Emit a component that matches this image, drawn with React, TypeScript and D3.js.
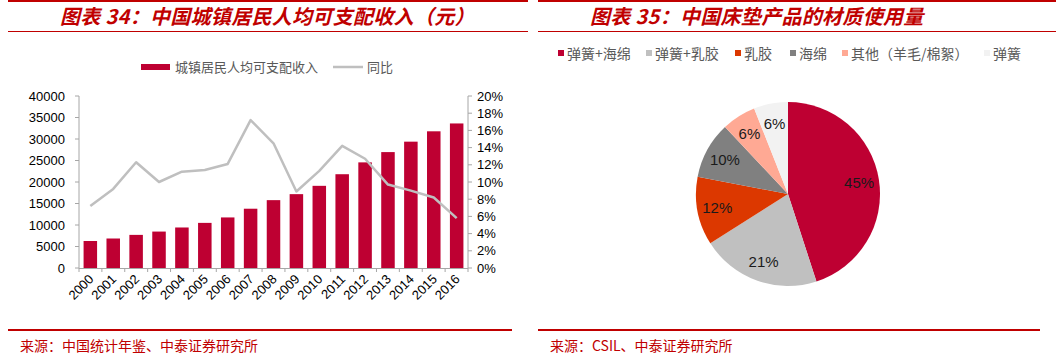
import * as d3 from "d3";
import React from "react";

// 图表34 数据
const years = ["2000", "2001", "2002", "2003", "2004", "2005", "2006", "2007", "2008", "2009", "2010", "2011", "2012", "2013", "2014", "2015", "2016"];
const income = [6280, 6860, 7703, 8472, 9422, 10493, 11759, 13786, 15781, 17175, 19109, 21810, 24565, 26955, 29381, 31790, 33616];
const yoy = [7.2, 9.2, 12.3, 10.0, 11.2, 11.4, 12.1, 17.2, 14.5, 8.9, 11.3, 14.2, 12.7, 9.7, 9.0, 8.2, 5.8];
const incomeTicks = [0, 5000, 10000, 15000, 20000, 25000, 30000, 35000, 40000];
const yoyTicks = [0, 2, 4, 6, 8, 10, 12, 14, 16, 18, 20];

// 图表35 数据
const materials = ["弹簧+海绵", "弹簧+乳胶", "乳胶", "海绵", "其他（羊毛/棉絮）", "弹簧"];
const shares = [45, 21, 12, 10, 6, 6];
const materialColors = ["#BE0032", "#C0C0C0", "#DC3800", "#808080", "#FFA994", "#F2F2F2"];

const RED = "#C00000";
const BAR = "#BE0032";
const AXIS = "#A6A6A6";
const NUM_FONT = "'Liberation Sans', Arial, sans-serif";
const CJK_FONT = "'Noto Sans CJK SC', sans-serif";

const Frame: React.FC<{ x0: number; x1: number; title: string; source: string }> = ({ x0, x1, title, source }) => (
    <g>
        <line x1={x0} x2={x1} y1={1} y2={1} stroke={RED} strokeWidth={2} />
        <text x={x0 + 52} y={23.5} fill={RED} fontFamily={CJK_FONT} fontSize={20} fontWeight="bold" fontStyle="italic" letterSpacing={0.3}>{title}</text>
        <line x1={x0} x2={x1} y1={31.5} y2={31.5} stroke={RED} strokeWidth={1.2} />
        <line x1={x0} x2={x1 - 16} y1={330} y2={330} stroke={RED} strokeWidth={2} />
        <text x={x0 + 12} y={351} fill={RED} fontFamily={CJK_FONT} fontSize={14}>{source}</text>
    </g>
);

const IncomeChart: React.FC = () => {
    const x = d3.scaleBand<string>().domain(years).range([79, 468]).paddingInner(0.41).paddingOuter(0.2);
    const yL = d3.scaleLinear().domain([0, 40000]).range([268, 96]);
    const yR = d3.scaleLinear().domain([0, 20]).range([268, 96]);
    const line = d3.line<number>()
        .x((_, i) => (x(years[i]) as number) + x.bandwidth() / 2)
        .y(d => yR(d));
    const bounds = years.map((_, i) => 79 + (i * (468 - 79)) / years.length).concat([468]);

    return (
        <g>
            {/* legend */}
            <rect x={141} y={64} width={29} height={6} fill={BAR} />
            <text x={175} y={71.5} fontFamily={CJK_FONT} fontSize={13} fill="#595959">城镇居民人均可支配收入</text>
            <line x1={333} x2={363} y1={67} y2={67} stroke="#BFBFBF" strokeWidth={2.5} />
            <text x={367} y={71.5} fontFamily={CJK_FONT} fontSize={13} fill="#595959">同比</text>

            {/* left axis */}
            <line x1={79} x2={79} y1={96} y2={268} stroke={AXIS} />
            {incomeTicks.map(t => (
                <g key={t}>
                    <line x1={75} x2={79} y1={yL(t)} y2={yL(t)} stroke={AXIS} />
                    <text x={65} y={yL(t) + 4.5} textAnchor="end" fontFamily={NUM_FONT} fontSize={13} fill="#000">{t}</text>
                </g>
            ))}
            {/* right axis */}
            <line x1={468} x2={468} y1={96} y2={268} stroke={AXIS} />
            {yoyTicks.map(t => (
                <g key={t}>
                    <line x1={468} x2={472} y1={yR(t)} y2={yR(t)} stroke={AXIS} />
                    <text x={477} y={yR(t) + 4.5} fontFamily={NUM_FONT} fontSize={13} fill="#000">{t}%</text>
                </g>
            ))}
            {/* bars */}
            {income.map((v, i) => (
                <rect key={years[i]} x={x(years[i])} y={yL(v)} width={x.bandwidth()} height={268 - yL(v)} fill={BAR} />
            ))}
            {/* x axis */}
            <line x1={79} x2={468} y1={268.5} y2={268.5} stroke={AXIS} />
            {bounds.map((b, i) => (
                <line key={i} x1={b} x2={b} y1={268} y2={272} stroke={AXIS} />
            ))}
            {years.map(yr => {
                const cx = (x(yr) as number) + x.bandwidth() / 2 + 4;
                return (
                    <text key={yr} transform={`translate(${cx},${280}) rotate(-45)`} textAnchor="end" fontFamily={NUM_FONT} fontSize={13} fill="#000">{yr}</text>
                );
            })}
            {/* yoy line */}
            <path d={line(yoy) || ""} fill="none" stroke="#BFBFBF" strokeWidth={2.5} strokeLinejoin="round" />
        </g>
    );
};

const MaterialPie: React.FC = () => {
    const cx = 788, cy = 194, r = 92;
    const pie = d3.pie<number>().sort(null)(shares);
    const arc = d3.arc<d3.PieArcDatum<number>>().innerRadius(0).outerRadius(r);
    const labelArc = d3.arc<d3.PieArcDatum<number>>().innerRadius(72).outerRadius(72);
    const legendX = [558, 646, 735, 790, 842, 984];

    return (
        <g>
            {materials.map((m, i) => (
                <g key={m}>
                    <rect x={legendX[i]} y={50} width={6} height={6} fill={materialColors[i]} />
                    <text x={legendX[i] + 9} y={58.5} fontFamily={CJK_FONT} fontSize={14} fill="#595959">{m}</text>
                </g>
            ))}
            <g transform={`translate(${cx},${cy})`}>
                {pie.map((p, i) => (
                    <path key={i} d={arc(p) || ""} fill={materialColors[i]} />
                ))}
                {pie.map((p, i) => {
                    const [lx, ly] = labelArc.centroid(p);
                    return (
                        <text key={i} x={lx} y={ly + 5.5} textAnchor="middle" fontFamily={NUM_FONT} fontSize={15} fill="#1a1a1a">{shares[i]}%</text>
                    );
                })}
            </g>
        </g>
    );
};

export default function App() {
    return (
        <svg width={1056} height={364} style={{ position: "absolute", left: 0, top: 0, background: "#fff" }}>
            <Frame x0={8} x1={528} title="图表 34：中国城镇居民人均可支配收入（元）" source="来源：中国统计年鉴、中泰证券研究所" />
            <Frame x0={538} x1={1056} title="图表 35：中国床垫产品的材质使用量" source="来源：CSIL、中泰证券研究所" />
            <IncomeChart />
            <MaterialPie />
        </svg>
    );
}
